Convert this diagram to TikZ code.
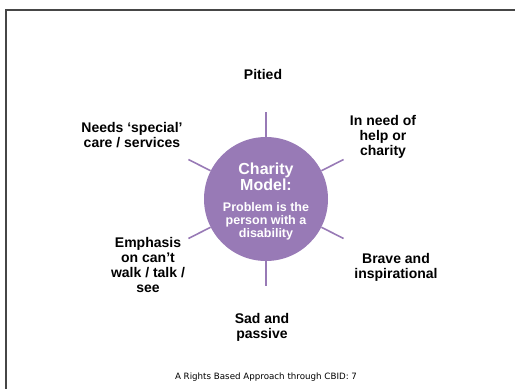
\documentclass[tikz,border=0pt]{standalone}
\usepackage{fontspec}
\setmainfont{Liberation Sans}
\newfontfamily\footfont{DejaVu Sans}
\usetikzlibrary{positioning}

\definecolor{charity}{RGB}{152,122,182}
\definecolor{slideframe}{RGB}{70,70,70}

\begin{document}
\begin{tikzpicture}[x=1pt, y=-1pt,
    view/.style={font=\bfseries\fontsize{14}{15}\selectfont, align=center, inner sep=0pt},
    spoke/.style={charity, line width=1.6pt}]
    \useasboundingbox (0,0) rectangle (515,389);

    % slide edge
    \draw[slideframe, line width=1.2pt] (515,10) -- (6,10) -- (6,389);

    % the hub
    \node[circle, fill=charity, minimum size=124pt, inner sep=0pt] (hub) at (266,199) {};
    \node[text=white, font=\bfseries\fontsize{16}{16}\selectfont, align=center] (title) at (266,177) {Charity\\Model:};
    \node[text=white, font=\bfseries\fontsize{12.5}{12.8}\selectfont, align=center] (sub) at (266,221)
        {Problem is the\\person with a\\disability};

    % spokes round the hub
    \foreach \a in {90,27,-27,-90,153,207} {
        \path (hub) ++(\a:87pt) coordinate (s\a);
        \draw[spoke] (hub.\a) -- (s\a);
    };

    % the views
    \node[view] (pitied) at (263,74) {Pitied};
    \node[view] (needs) at (132,135) {Needs ‘special’\\care / services};
    \node[view] (helpneed) at (383,137) {In need of\\help or\\charity};
    \node[view] (emphasis) at (148,265) {Emphasis\\on can’t\\walk / talk /\\see};
    \node[view] (brave) at (396,267) {Brave and\\inspirational};
    \node[view] (sad) at (262,327) {Sad and\\passive};

    \node[font=\footfont\fontsize{8.7}{10}\selectfont] (footer) at (266,377)
        {A Rights Based Approach through CBID: 7};
\end{tikzpicture}
\end{document}
